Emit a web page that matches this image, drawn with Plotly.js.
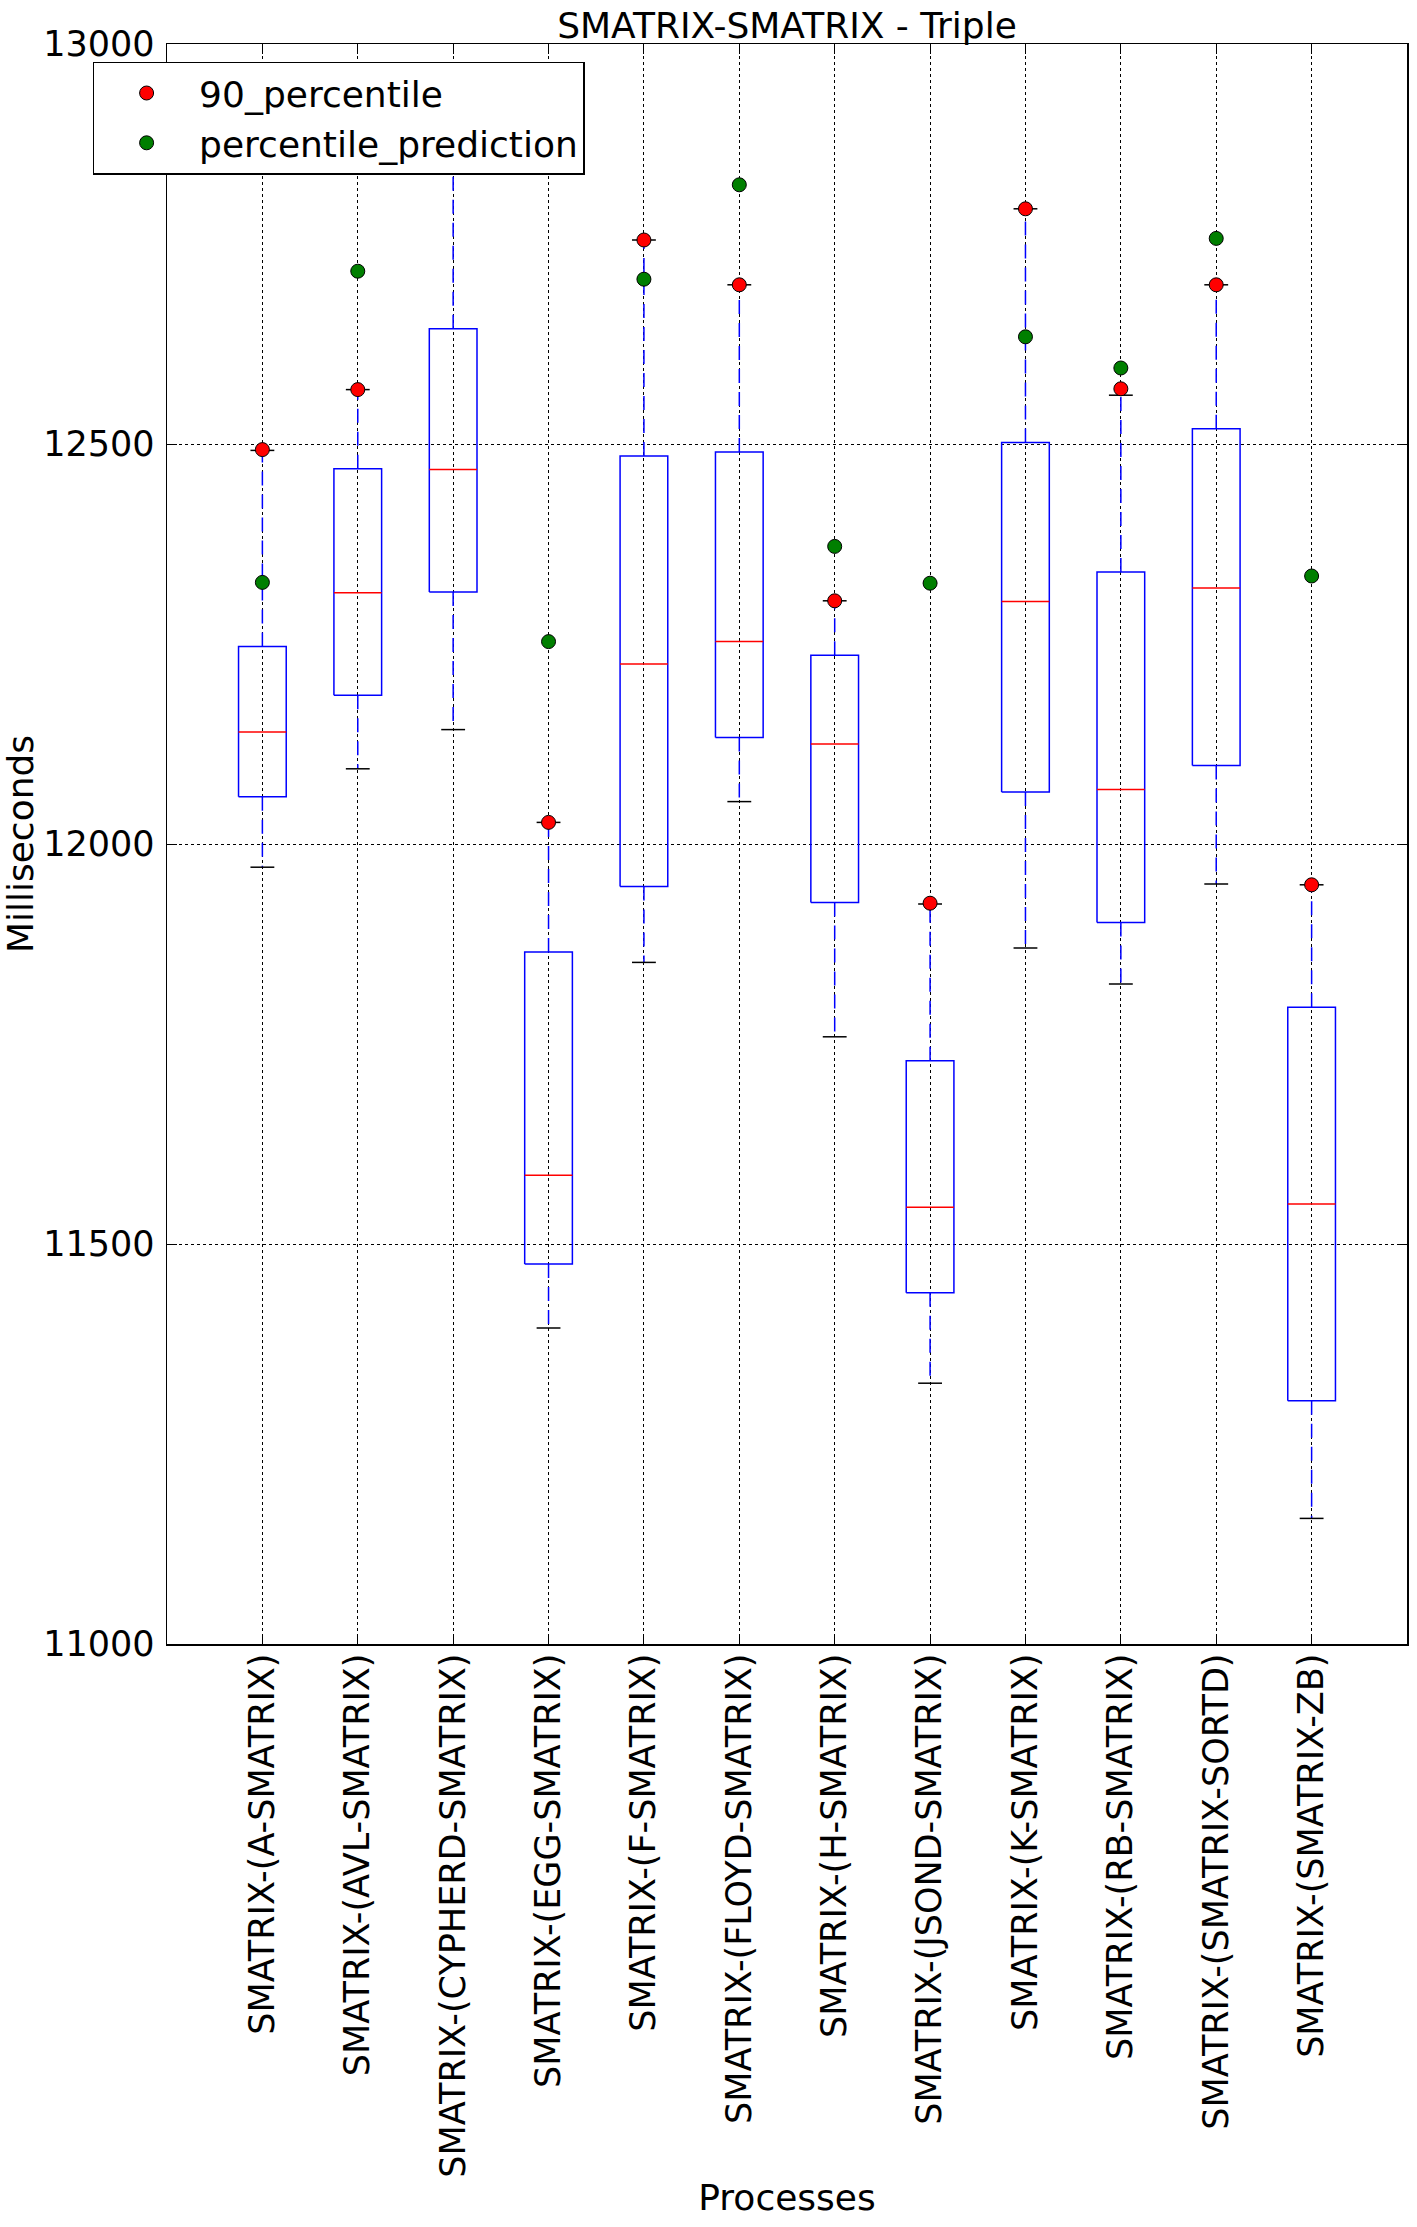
<!DOCTYPE html>
<html>
<head>
<meta charset="utf-8">
<script src="https://cdn.plot.ly/plotly-3.0.1.min.js"></script>
<style>
html,body{margin:0;padding:0;background:#fff;}
#chart{width:1417px;height:2227px;}
</style>
</head>
<body>
<div id="chart"></div>
<script>
// ---- data ----
const categories = [
  'SMATRIX-(A-SMATRIX)', 'SMATRIX-(AVL-SMATRIX)', 'SMATRIX-(CYPHERD-SMATRIX)',
  'SMATRIX-(EGG-SMATRIX)', 'SMATRIX-(F-SMATRIX)', 'SMATRIX-(FLOYD-SMATRIX)',
  'SMATRIX-(H-SMATRIX)', 'SMATRIX-(JSOND-SMATRIX)', 'SMATRIX-(K-SMATRIX)',
  'SMATRIX-(RB-SMATRIX)', 'SMATRIX-(SMATRIX-SORTD)', 'SMATRIX-(SMATRIX-ZB)'
];
const lowerWhisker = [11971, 12094, 12143, 11395, 11852, 12053, 11759, 11326, 11870, 11825, 11950, 11157];
const q1           = [12059, 12186, 12315, 11475, 11947, 12133, 11927, 11439, 12065, 11902, 12098, 11304];
const median       = [12140, 12314, 12468, 11586, 12225, 12253, 12125, 11546, 12303, 12068, 12320, 11550];
const q3           = [12247, 12469, 12644, 11865, 12485, 12490, 12236, 11729, 12502, 12340, 12519, 11796];
const upperWhisker = [12492, 12568, 12900, 12027, 12755, 12699, 12304, 11925, 12794, 12561, 12699, 11949];
const p90          = [12493, 12568, 12900, 12027, 12755, 12699, 12304, 11926, 12794, 12569, 12699, 11949];
const prediction   = [12327, 12716, 12950, 12253, 12706, 12824, 12372, 12326, 12634, 12595, 12757, 12335];
const yTicks = [11000, 11500, 12000, 12500, 13000];

// ---- build traces ----
const pos = categories.map((c, i) => i + 1);
const boxHalf = 0.25, capHalf = 0.125;

const boxX = [], boxY = [], medX = [], medY = [], whX = [], whY = [], capX = [], capY = [];
pos.forEach((p, i) => {
  boxX.push(p - boxHalf, p + boxHalf, p + boxHalf, p - boxHalf, p - boxHalf, null);
  boxY.push(q1[i], q1[i], q3[i], q3[i], q1[i], null);
  medX.push(p - boxHalf, p + boxHalf, null);
  medY.push(median[i], median[i], null);
  whX.push(p, p, null, p, p, null);
  whY.push(q3[i], upperWhisker[i], null, q1[i], lowerWhisker[i], null);
  capX.push(p - capHalf, p + capHalf, null, p - capHalf, p + capHalf, null);
  capY.push(upperWhisker[i], upperWhisker[i], null, lowerWhisker[i], lowerWhisker[i], null);
});

const FONT = 'DejaVu Sans, Liberation Sans, sans-serif';
const BIG = 36, TICK = 35;

const traces = [
  {x: whX, y: whY, mode: 'lines', type: 'scatter', showlegend: false, hoverinfo: 'skip',
   line: {color: '#0000ff', width: 1.5, dash: '14px,9px'}},
  {x: boxX, y: boxY, mode: 'lines', type: 'scatter', showlegend: false, hoverinfo: 'skip',
   line: {color: '#0000ff', width: 1.5}},
  {x: medX, y: medY, mode: 'lines', type: 'scatter', showlegend: false, hoverinfo: 'skip',
   line: {color: '#ff0000', width: 1.5}},
  {x: capX, y: capY, mode: 'lines', type: 'scatter', showlegend: false, hoverinfo: 'skip',
   line: {color: '#000000', width: 1.5}},
  {x: pos, y: p90, mode: 'markers', type: 'scatter', name: '90_percentile',
   marker: {color: '#ff0000', size: 14, line: {color: '#000000', width: 1}}},
  {x: pos, y: prediction, mode: 'markers', type: 'scatter', name: 'percentile_prediction',
   marker: {color: '#007f00', size: 14, line: {color: '#000000', width: 1}}}
];

const layout = {
  width: 1417, height: 2227,
  margin: {l: 167, r: 10, t: 44, b: 583, pad: 0},
  paper_bgcolor: '#ffffff', plot_bgcolor: '#ffffff',
  font: {family: FONT, size: BIG, color: '#000000'},
  title: {text: 'SMATRIX-SMATRIX - Triple', font: {family: FONT, size: BIG, color: '#000000'},
          x: 0.5, xref: 'paper', xanchor: 'center', y: 1 - 44 / 2227, yref: 'container', yanchor: 'bottom',
          pad: {b: 6}},
  showlegend: true,
  legend: {x: -0.06, y: 0.989, xanchor: 'left', yanchor: 'top', xref: 'paper', yref: 'paper',
           bgcolor: '#ffffff', bordercolor: '#000000', borderwidth: 1.5,
           font: {family: FONT, size: BIG, color: '#000000'}, itemwidth: 95},
  xaxis: {
    range: [0, 13], tickmode: 'array', tickvals: pos, ticktext: categories, tickangle: -90,
    showgrid: true, gridcolor: '#000000', griddash: 'dot', gridwidth: 1,
    showline: true, linecolor: '#000000', linewidth: 1.5, mirror: 'ticks',
    ticks: 'inside', ticklen: 10, tickwidth: 1, tickcolor: '#000000',
    zeroline: false, ticklabelstandoff: -6,
    tickfont: {family: FONT, size: TICK, color: '#000000'},
    title: {text: 'Processes', font: {family: FONT, size: BIG, color: '#000000'}, standoff: 8}
  },
  yaxis: {
    range: [11000, 13000], tickmode: 'array', tickvals: yTicks, tickformat: 'd',
    showgrid: true, gridcolor: '#000000', griddash: 'dot', gridwidth: 1,
    showline: true, linecolor: '#000000', linewidth: 1.5, mirror: 'ticks',
    ticks: 'inside', ticklen: 10, tickwidth: 1, tickcolor: '#000000',
    zeroline: false, ticklabelstandoff: 4,
    tickfont: {family: FONT, size: TICK, color: '#000000'},
    title: {text: 'Milliseconds', font: {family: FONT, size: BIG, color: '#000000'}, standoff: 0}
  }
};

Plotly.newPlot('chart', traces, layout, {displayModeBar: false, staticPlot: true});
</script>
</body>
</html>
